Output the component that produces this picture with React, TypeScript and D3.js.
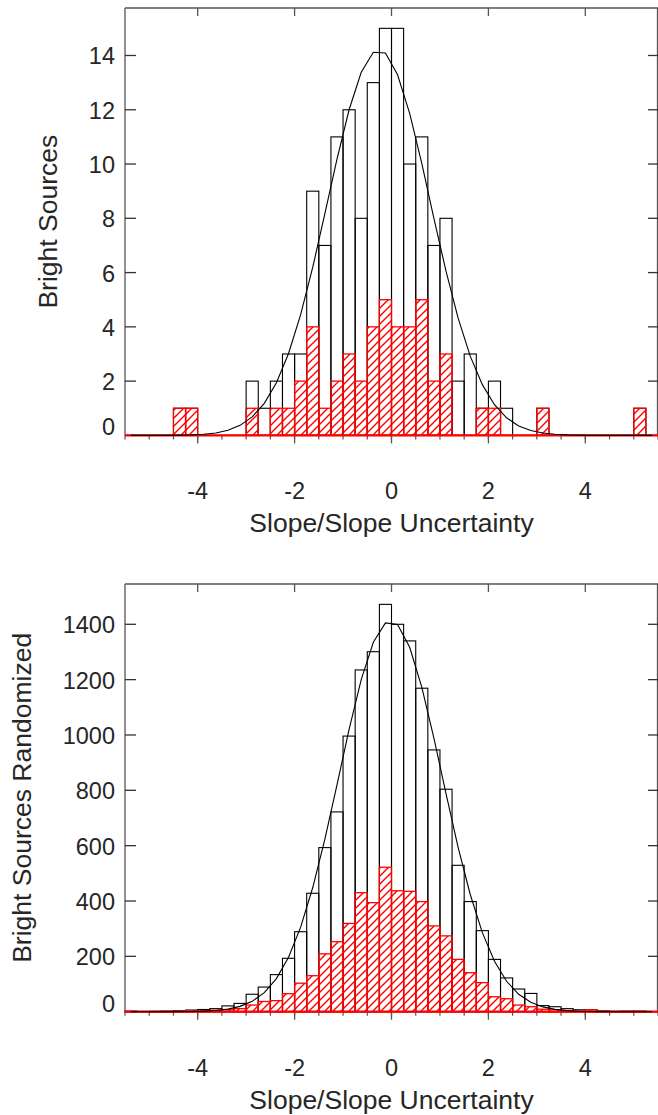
import React from "react";
import * as d3 from "d3";

// ---- data ----
const binStarts = [-5.5,-5.25,-5,-4.75,-4.5,-4.25,-4,-3.75,-3.5,-3.25,-3,-2.75,-2.5,-2.25,-2,-1.75,-1.5,-1.25,-1,-0.75,-0.5,-0.25,0,0.25,0.5,0.75,1,1.25,1.5,1.75,2,2.25,2.5,2.75,3,3.25,3.5,3.75,4,4.25,4.5,4.75,5,5.25];
const binWidth = 0.25;

const topTotal = [0,0,0,0,1,1,0,0,0,0,2,1,2,3,3,9,7,11,12,8,13,15,15,10,11,7,8,2,3,1,2,1,0,0,1,0,0,0,0,0,0,0,1,0];
const topRed = [0,0,0,0,1,1,0,0,0,0,1,0,1,1,2,4,1,2,3,2,4,5,4,4,5,2,3,0,0,1,1,0,0,0,1,0,0,0,0,0,0,0,1,0];
const topFit = [0,0,0,0,0.01,0.02,0.04,0.09,0.19,0.37,0.68,1.18,1.94,3.02,4.45,6.2,8.17,10.18,12.0,13.38,14.12,14.09,13.29,11.87,10.02,8.0,6.05,4.32,2.92,1.87,1.13,0.65,0.35,0.18,0.09,0.04,0.02,0.01,0,0,0,0,0,0];

const bottomTotal = [2,0,1,2,4,6,8,11,21,30,63,89,134,193,289,428,593,722,996,1235,1301,1472,1400,1340,1169,946,804,529,398,293,189,122,82,66,22,18,11,7,7,3,1,2,2,0];
const bottomRed = [1,0,1,1,2,3,3,5,7,11,24,37,40,65,103,130,209,253,319,430,394,522,437,435,398,310,274,189,141,105,54,47,24,18,9,7,4,2,7,1,1,1,1,0];
const bottomFit = [0,0.01,0.04,0.11,0.3,0.8,1.9,4.4,9.4,19.3,37.5,68.9,119.6,196.6,305.4,448.7,623.7,820,1020,1200,1335,1405,1399,1317,1173,989,788,594,423.6,285.6,182.2,110,62.8,33.9,17.3,8.4,3.8,1.7,0.7,0.26,0.09,0.03,0.01,0];

const xMajorTicks = [-4, -2, 0, 2, 4];
const topYTicks = [0, 2, 4, 6, 8, 10, 12, 14];
const bottomYTicks = [0, 200, 400, 600, 800, 1000, 1200, 1400];
const xTitle = "Slope/Slope Uncertainty";
const topYTitle = "Bright Sources";
const bottomYTitle = "Bright Sources Randomized";

const FONT = "'Liberation Sans', Arial, Helvetica, sans-serif";
const AX = "#555";
const TXT = "#262626";
const RED = "#ff0000";
const HATCH_STEP = 8;

// diagonal "/" hatch segments inside a rectangle (screen coords)
function hatchPath(x0: number, x1: number, y0: number, y1: number): string {
  let d = "";
  const cStart = Math.ceil((x0 + y0) / HATCH_STEP) * HATCH_STEP;
  for (let c = cStart; c <= x1 + y1; c += HATCH_STEP) {
    const xa = Math.max(x0, c - y1);
    const xb = Math.min(x1, c - y0);
    if (xb - xa > 0.2) {
      d += `M${xa},${c - xa}L${xb},${c - xb}`;
    }
  }
  return d;
}

type PanelProps = {
  total: number[];
  red: number[];
  fit: number[];
  yTicks: number[];
  yTitle: string;
  top: number;
  bottom: number;
  yTitleX: number;
};

function Panel({ total, red, fit, yTicks, yTitle, top, bottom, yTitleX }: PanelProps) {
  const left = 125;
  const right = 658;
  const x = d3.scaleLinear().domain([-5.5, 5.5]).range([left, right]);
  const yMax = (d3.max(total) as number) * 1.05;
  const y = d3.scaleLinear().domain([0, yMax]).range([bottom, top]);
  const minor = d3.range(-5.5, 5.5001, 0.5);

  const line = d3
    .line<number>()
    .x((_, i) => x(binStarts[i] + binWidth / 2))
    .y((d) => y(d));

  return (
    <g>
      {/* frame */}
      <line x1={left} x2={left} y1={top} y2={bottom} stroke={AX} strokeWidth={1.3} />
      <line x1={left} x2={right} y1={top} y2={top} stroke={AX} strokeWidth={1.3} />
      <line x1={right - 0.5} x2={right - 0.5} y1={top} y2={bottom} stroke={AX} strokeWidth={1.3} />
      <line x1={left} x2={right} y1={bottom} y2={bottom} stroke={AX} strokeWidth={1.3} />
      {/* x ticks */}
      {minor.map((t) => (
        <line key={"mn" + t} x1={x(t)} x2={x(t)} y1={bottom} y2={bottom + 4} stroke={AX} strokeWidth={1.2} />
      ))}
      {xMajorTicks.map((t) => (
        <g key={"mj" + t}>
          <line x1={x(t)} x2={x(t)} y1={bottom} y2={bottom + 8} stroke={AX} strokeWidth={1.3} />
          <line x1={x(t)} x2={x(t)} y1={top} y2={top + 8} stroke={AX} strokeWidth={1.3} />
          <text x={x(t)} y={bottom + 56} textAnchor="middle" dominantBaseline="central" fontFamily={FONT} fontSize={23.5} fill={TXT}>
            {String(t)}
          </text>
        </g>
      ))}
      {/* y ticks */}
      {yTicks.map((t) => (
        <g key={"y" + t}>
          <line x1={left} x2={left + 11} y1={y(t)} y2={y(t)} stroke="#333" strokeWidth={1.3} />
          <line x1={right - 10} x2={right} y1={y(t)} y2={y(t)} stroke="#333" strokeWidth={1.3} />
          <text x={left - 10} y={t === 0 ? y(t) - 8 : y(t) + 1} textAnchor="end" dominantBaseline="central" fontFamily={FONT} fontSize={23.5} fill={TXT}>
            {String(t)}
          </text>
        </g>
      ))}
      {/* total histogram */}
      {total.map((v, i) =>
        v > 0 ? (
          <rect key={"t" + i} x={x(binStarts[i])} y={y(v)} width={x(binStarts[i] + binWidth) - x(binStarts[i])} height={y(0) - y(v)} fill="none" stroke="#000" strokeWidth={1.1} />
        ) : null
      )}
      {/* red subset histogram: hatch + outline */}
      {red.map((v, i) => {
        if (v <= 0) return null;
        const x0 = x(binStarts[i]);
        const x1 = x(binStarts[i] + binWidth);
        const y0 = y(v);
        const y1 = y(0);
        return (
          <g key={"r" + i}>
            <path d={hatchPath(x0, x1, y0, y1)} fill="none" stroke={RED} strokeWidth={1.4} />
            <rect x={x0} y={y0} width={x1 - x0} height={y1 - y0} fill="none" stroke={RED} strokeWidth={1.3} />
          </g>
        );
      })}
      <line x1={x(binStarts[0])} x2={x(binStarts[binStarts.length - 1] + binWidth)} y1={y(0)} y2={y(0)} stroke={RED} strokeWidth={2.2} />
      {/* gaussian fit */}
      <path d={line(fit) || ""} fill="none" stroke="#000" strokeWidth={1.1} />
      {/* titles */}
      <text x={(left + right) / 2} y={bottom + 88} textAnchor="middle" dominantBaseline="central" fontFamily={FONT} fontSize={26.5} fill={TXT}>
        {xTitle}
      </text>
      <text transform={`translate(${yTitleX},${(top + bottom) / 2}) rotate(-90)`} textAnchor="middle" dominantBaseline="central" fontFamily={FONT} fontSize={26.5} fill={TXT}>
        {yTitle}
      </text>
    </g>
  );
}

export default function App() {
  return (
    <svg width={658} height={1115} style={{ position: "absolute", left: 0, top: 0, background: "#fff" }}>
      <rect x={0} y={0} width={658} height={1115} fill="#fff" />
      <Panel total={topTotal} red={topRed} fit={topFit} yTicks={topYTicks} yTitle={topYTitle} top={8} bottom={435.4} yTitleX={48} />
      <Panel total={bottomTotal} red={bottomRed} fit={bottomFit} yTicks={bottomYTicks} yTitle={bottomYTitle} top={584} bottom={1011.7} yTitleX={22} />
    </svg>
  );
}
